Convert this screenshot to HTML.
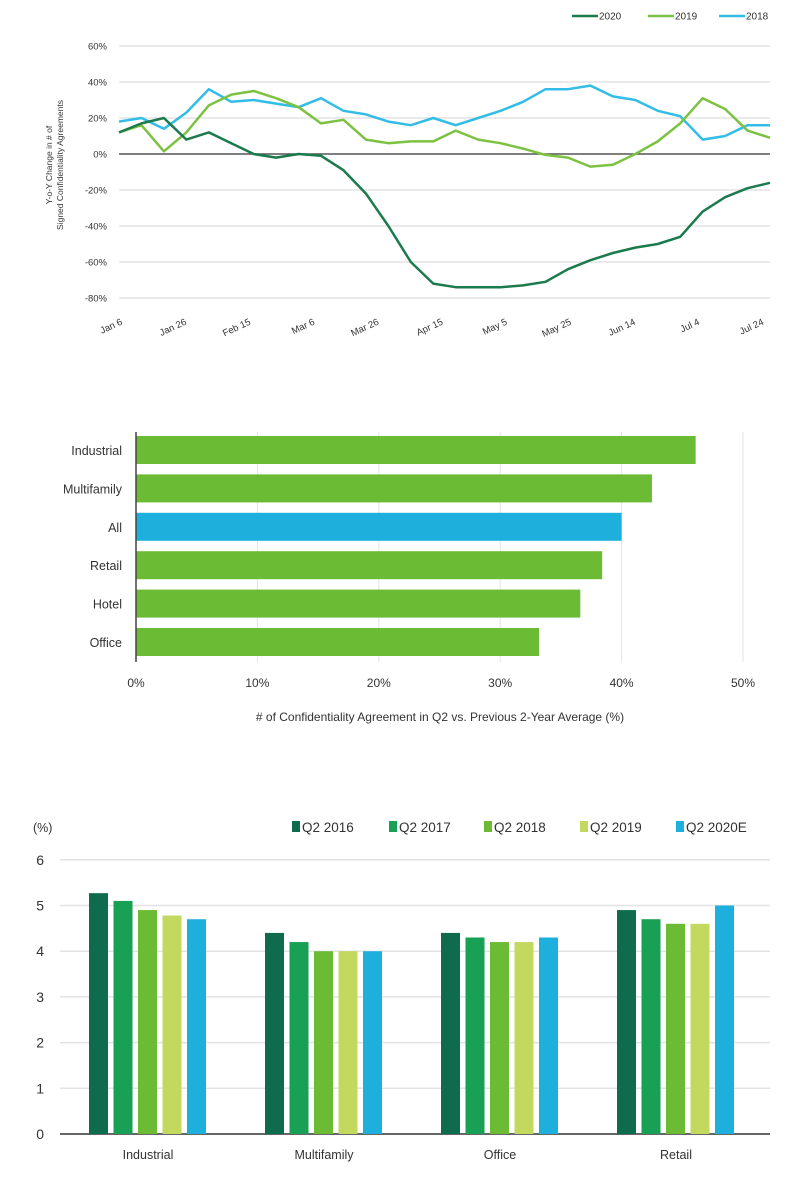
<!DOCTYPE html>
<html><head><meta charset="utf-8"><style>
body{margin:0;background:#fff;font-family:"Liberation Sans",sans-serif;}
svg{display:block}
text{fill:#333}
</style></head><body>
<svg id="s" width="804" height="1180"></svg>
<script>
// ---- Chart 1 data ----
const lineDays=[0,7,14,21,28,35,42,49,56,63,70,77,84,91,98,105,112,119,126,133,140,147,154,161,168,175,182,189,196,203];
const s2020=[12,17,20,8,12,6,0,-2,0,-1,-9,-22,-40,-60,-72,-74,-74,-74,-73,-71,-64,-59,-55,-52,-50,-46,-32,-24,-19,-16];
const s2019=[12,16,1.5,12,27,33,35,31,26,17,19,8,6,7,7,13,8,6,3,-0.5,-2,-7,-6,0,7,17,31,25,13,9];
const s2018=[18,20,14,23,36,29,30,28,26,31,24,22,18,16,20,16,20,24,29,36,36,38,32,30,24,21,8,10,16,16];
const lineTicks=[60,40,20,0,-20,-40,-60,-80];
const dateLabels=["Jan 6","Jan 26","Feb 15","Mar 6","Mar 26","Apr 15","May 5","May 25","Jun 14","Jul 4","Jul 24"];
const dateDays=[0,20,40,60,80,100,120,140,160,180,200];
// ---- Chart 2 data ----
const hCats=["Industrial","Multifamily","All","Retail","Hotel","Office"];
const hVals=[46.1,42.5,40.0,38.4,36.6,33.2];
const hTicks=[0,10,20,30,40,50];
// ---- Chart 3 data ----
const vCats=["Industrial","Multifamily","Office","Retail"];
const vSeries=["Q2 2016","Q2 2017","Q2 2018","Q2 2019","Q2 2020E"];
const v2016=[5.27,4.4,4.4,4.9];
const v2017=[5.1,4.2,4.3,4.7];
const v2018=[4.9,4.0,4.2,4.6];
const v2019=[4.78,4.0,4.2,4.6];
const v2020=[4.7,4.0,4.3,5.0];
const vTicks=[0,1,2,3,4,5,6];

const NS="http://www.w3.org/2000/svg",S=document.getElementById('s');
function el(t,a,p){const e=document.createElementNS(NS,t);for(const k in a)e.setAttribute(k,a[k]);(p||S).appendChild(e);return e;}
function tx(x,y,str,a){const e=el('text',Object.assign({x:x,y:y},a||{}));e.textContent=str;return e;}

// ===== Chart 1 =====
const g1=el('g',{});


const X1=d=>119+d/203*651, Y1=v=>154-v*1.8;
lineTicks.forEach(t=>{
  const l=el('line',{x1:119,x2:770,y1:Y1(t),y2:Y1(t),stroke:t===0?'#555':'#e3e3e3','stroke-width':1.5},g1);
  
  
  const lb=tx(107,Y1(t)+3.5,t+'%',{'font-size':9.5,'text-anchor':'end'});
  g1.appendChild(lb);
  
  
});
dateLabels.forEach((d,i)=>{
  const x=X1(dateDays[i])+4;
  const lb=tx(x,324,d,{'font-size':9.5,'text-anchor':'end',transform:`rotate(-25 ${x} 324)`});
  g1.appendChild(lb);
  
  
});
const yt=tx(0,0,'Y-o-Y Change in # of',{'font-size':8.5,'text-anchor':'middle',transform:'translate(52,165) rotate(-90)'});


const yt2=tx(0,0,'Signed Confidentiality Agreements',{'font-size':8.5,'text-anchor':'middle',transform:'translate(63,165) rotate(-90)'});


[[s2018,'#33bde6','line-2018'],[s2019,'#7cc242','line-2019'],[s2020,'#1b7a4e','line-2020']].forEach(([s,c,n])=>{
  const p=el('polyline',{points:s.map((v,i)=>X1(lineDays[i])+','+Y1(v)).join(' '),fill:'none',stroke:c,'stroke-width':2.5,'stroke-linejoin':'round'},g1);
  
  
});
[['2020','#1b7a4e',572],['2019','#7cc242',648],['2018','#33bde6',719]].forEach(([t,c,x])=>{
  const l=el('line',{x1:x,x2:x+26,y1:16,y2:16,stroke:c,'stroke-width':2.5},g1);
  
  
  const lb=tx(x+27,19.5,t,{'font-size':10});
  g1.appendChild(lb);
  
  
});

// ===== Chart 2 =====
const g2=el('g',{});


const X2=v=>136+v*12.14;
hTicks.forEach(t=>{
  if(t>0){const l=el('line',{x1:X2(t),x2:X2(t),y1:432,y2:662,stroke:'#e3e3e3','stroke-width':1},g2);
  
  }
  const lb=tx(X2(t),687,t+'%',{'font-size':12,'text-anchor':'middle'});
  g2.appendChild(lb);
  
  
});
hCats.forEach((c,i)=>{
  const y=436+i*38.4;
  const r=el('rect',{x:X2(0),y:y,width:X2(hVals[i])-X2(0),height:28,fill:c==='All'?'#1eb0dc':'#6bbb35'},g2);
  
  
  const lb=tx(122,y+19,c,{'font-size':12.5,'text-anchor':'end'});
  g2.appendChild(lb);
  
  
});
const ax2=el('line',{x1:136,x2:136,y1:432,y2:662,stroke:'#444','stroke-width':1.5},g2);


const xt2=tx(440,721,'# of Confidentiality Agreement in Q2 vs. Previous 2-Year Average (%)',{'font-size':12,'text-anchor':'middle'});



// ===== Chart 3 =====
const g3=el('g',{});


const Y3=v=>1134-v*45.7;
vTicks.forEach(t=>{
  const l=el('line',{x1:60,x2:770,y1:Y3(t),y2:Y3(t),stroke:t===0?'#333':'#e3e3e3','stroke-width':1.5},g3);
  
  
  const lb=tx(44,Y3(t)+5,String(t),{'font-size':14,'text-anchor':'end'});
  g3.appendChild(lb);
  
  
});
const colors=['#0e6b4e','#18a055','#6bbb35','#c2d85e','#1eb0dc'];
const allV=[v2016,v2017,v2018,v2019,v2020];
vCats.forEach((c,ci)=>{
  const cx=148+ci*176;
  allV.forEach((arr,si)=>{
    const x=cx-59+si*24.5;
    const r=el('rect',{x:x,y:Y3(arr[ci]),width:19,height:Y3(0)-Y3(arr[ci]),fill:colors[si]},g3);
    
    
  });
  const lb=tx(cx,1159,c,{'font-size':12.5,'text-anchor':'middle'});
  g3.appendChild(lb);
  
  
});
const unit=tx(33,832,'(%)',{'font-size':12.5});


const legX=[292,389,484,580,676];
vSeries.forEach((s,i)=>{
  const r=el('rect',{x:legX[i],y:821,width:8,height:11,fill:colors[i]},g3);
  
  
  const lb=tx(legX[i]+10,832,s,{'font-size':13.5});
  g3.appendChild(lb);
  
  
});
</script>
</body></html>
